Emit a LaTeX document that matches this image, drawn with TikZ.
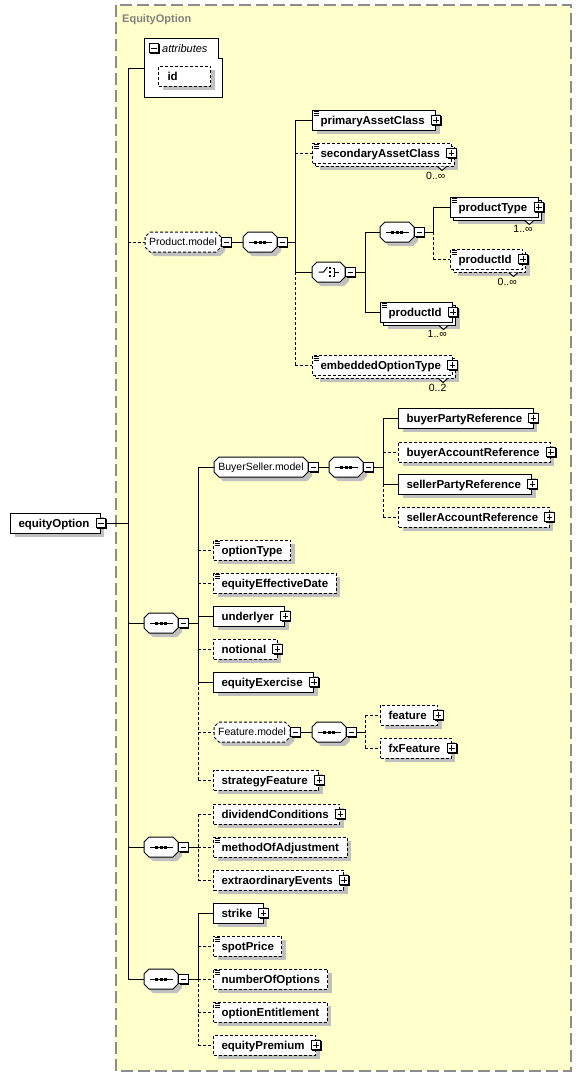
\documentclass[tikz,border=0pt]{standalone}
\usepackage{fontspec}
\setmainfont{Liberation Sans}
\usetikzlibrary{shadows}
\definecolor{yel}{RGB}{255,255,204}
\definecolor{bordergray}{RGB}{140,140,140}
\definecolor{titlegray}{RGB}{128,128,128}
\definecolor{shgray}{RGB}{192,192,192}
\newcommand\elfont{\fontsize{11.5}{13}\selectfont\bfseries}
\newcommand\grfont{\fontsize{10.5}{12}\selectfont}
\newcommand\itfont{\fontsize{11}{13}\selectfont\itshape}
\newcommand\cdfont{\fontsize{10.5}{12}\selectfont}
\newcommand\tifont{\fontsize{11}{13}\selectfont\bfseries}
\newcommand\TX[1]{\hspace*{8pt}#1\hspace*{8pt}}
\newcommand\TP[1]{\hspace*{8pt}#1\hspace*{11pt}}
% octagon shape with shadow (numeric)
\newcommand\xOct[4]{%
 \fill[shgray] ({#1+9},{#3-6}) -- ({#2-1},{#3-6}) -- ({#2+4},{#3-1}) -- ({#2+4},{#3+9}) -- ({#2-1},{#3+14}) -- ({#1+9},{#3+14}) -- ({#1+4},{#3+9}) -- ({#1+4},{#3-1}) -- cycle;
 \draw[fill=white, line width=1pt, #4] ({#1+5},{#3-10}) -- ({#2-5},{#3-10}) -- (#2,{#3-5}) -- (#2,{#3+5}) -- ({#2-5},{#3+10}) -- ({#1+5},{#3+10}) -- (#1,{#3+5}) -- (#1,{#3-5}) -- cycle;}
\newcommand\xSeq[3]{%
 \xOct{#2-17}{#2+17}{#3}{solid}
 \node[gnode, minimum width=34pt] (#1) at (#2,#3) {};
 \draw[line width=1pt] ({#2-11.5},#3) -- ({#2+11.5},#3);
 \foreach \dd in {-4.5,0,4.5} {\fill ({#2+\dd-1.5},{#3-1.5}) rectangle ++(3,3);}
 \node[mbox, anchor=west] (#1m) at (#1.east) {};}
\newcommand\xChoice[3]{%
 \xOct{#2-16.5}{#2+16.5}{#3}{solid}
 \node[gnode, minimum width=33pt] (#1) at (#2,#3) {};
 \draw[line width=1pt] ({#2-10},#3) -- ({#2-5},#3) -- ({#2-1},{#3-5});
 \foreach \dd in {-4,0,4} {\fill ({#2+0.5},{#3+\dd-1}) rectangle ++(2,2);}
 \draw[line width=1pt] ({#2+4},{#3-4}) -- ({#2+6},{#3-4}) -- ({#2+6},{#3+4}) -- ({#2+4},{#3+4});
 \draw[line width=1pt] ({#2+6},#3) -- ({#2+10},#3);
 \node[mbox, anchor=west] (#1m) at (#1.east) {};}
\newcommand\xGroup[6]{%
 \xOct{#2}{#3}{#4}{#5}
 \node[gnode, minimum width=#3-#2] (#1) at ({(#2+#3)/2},#4) {#6};
 \node[mbox, anchor=west] (#1m) at (#1.east) {};}
\newcommand\xPlus[1]{\node[pbox] (#1p) at (#1.east) {};}
\newcommand\xMinus[1]{\node[mbox] (#1m) at (#1.east) {};}
\newcommand\xMark[1]{\draw[line width=0.8pt] ([xshift=2pt,yshift=-2pt]#1.north west) -- ++(5,0) ([xshift=2pt,yshift=-4pt]#1.north west) -- ++(5,0) ([xshift=2pt,yshift=-6pt]#1.north west) -- ++(5,0);}
\newcommand\xStack[6]{%
 \node[#4, sh] (#1b) at ({#2+3},{#3+3}) {\phantom{#5}};
 \draw[line width=1pt, fill=white] ([xshift=-17pt]#1b.south east) -- ++(4.5,4) -- ++(4.5,-4);
 \node[#4] (#1) at (#2,#3) {#5};
 \node[cardn] (#1c) at ([xshift=-9pt,yshift=-5pt]#1b.south east) {#6};}
\begin{document}
\begin{tikzpicture}[x=1pt,y=-1pt,
 ln/.style={line width=1pt},
 lnd/.style={line width=1pt, dash pattern=on 3pt off 2pt},
 dashpat/.style={dash pattern=on 3pt off 2pt},
 base/.style={rectangle, fill=white, draw=black, line width=1pt, minimum height=20pt, inner sep=0pt, anchor=west, font=\elfont, text height=8.2pt, text depth=0pt},
 els/.style={base},
 eld/.style={base, dash pattern=on 3pt off 2pt},
 sh/.style={general shadow={fill=shgray, shadow xshift=4pt, shadow yshift=-4pt}},
 boxb/.style={rectangle, draw=black, fill=white, line width=1pt, minimum size=9.5pt, inner sep=0pt, general shadow={fill=black, shadow xshift=1pt, shadow yshift=-1pt}},
 pbox/.style={boxb, path picture={\draw[line width=1pt] ([xshift=2pt]path picture bounding box.west) -- ([xshift=-2pt]path picture bounding box.east); \draw[line width=1pt] ([yshift=2pt]path picture bounding box.south) -- ([yshift=-2pt]path picture bounding box.north);}},
 mbox/.style={boxb, path picture={\draw[line width=1pt] ([xshift=2pt]path picture bounding box.west) -- ([xshift=-2pt]path picture bounding box.east);}},
 gnode/.style={rectangle, draw=none, inner sep=0pt, minimum height=20pt, font=\grfont, text height=7.5pt, text depth=0pt},
 cardn/.style={anchor=north east, inner sep=0pt, font=\cdfont}
]
\useasboundingbox (0,0) rectangle (581,1077);
\fill[white] (0,0) rectangle (581,1077);
% frame
\fill[yel] (116,5) rectangle (571,1071);
\draw[bordergray, line width=1.2pt, dash pattern=on 12pt off 5pt] (116,5) rectangle (571,1071);
\node[font=\tifont, text=titlegray, anchor=west, inner sep=0pt, text height=8pt, text depth=0pt] (title) at (122,18) {EquityOption};

% bus coordinates
\coordinate (b0) at (128,0);
\coordinate (b1) at (295,0);
\coordinate (b2) at (433,0);
\coordinate (b3) at (365,0);
\coordinate (b4) at (198,0);
\coordinate (b5) at (383,0);
\coordinate (b6) at (365,0);

% attributes
\draw[fill=white, line width=1pt] (144,38) -- (218,38) -- (218,58) -- (222,58) -- (222,97) -- (144,97) -- cycle;
\coordinate (attrc) at (144,68);
\node[mbox] (attrm) at (154,48) {};
\node[font=\itfont, anchor=west, inner sep=0pt, text height=8pt, text depth=0pt] (attrt) at (162,48) {attributes};
\node[eld, sh] (idn) at (158,76) {\makebox[52pt][l]{\hspace*{9pt}id}};

% root
\node[els, sh] (root) at (10,523) {\TP{equityOption}};
\xMinus{root}

% Product.model
\xGroup{pm}{145}{221}{242}{dashpat}{Product.model}
\xSeq{pms}{260}{242}
\node[els, sh] (pac) at (312,120) {\TP{primaryAssetClass}}; \xMark{pac} \xPlus{pac}
\xStack{sac}{312}{153}{eld}{\TP{secondaryAssetClass}}{0..∞} \xMark{sac} \xPlus{sac}
\xChoice{ch}{328.5}{272}
\xSeq{ps}{397}{232}
\xStack{pt}{450}{207}{els}{\TP{productType}}{1..∞} \xMark{pt} \xPlus{pt}
\xStack{pi}{450}{259}{eld}{\TP{productId}}{0..∞} \xMark{pi} \xPlus{pi}
\xStack{pii}{380}{312}{els}{\TP{productId}}{1..∞} \xMark{pii} \xPlus{pii}
\xStack{eot}{312}{365}{eld}{\TP{embeddedOptionType}}{0..2} \xMark{eot} \xPlus{eot}

% sequence 1
\xSeq{sa}{161}{623}
\xGroup{bs}{214}{308}{467}{solid}{BuyerSeller.model}
\xSeq{bss}{346}{467}
\node[els, sh] (bpr) at (398,418) {\TP{buyerPartyReference}}; \xPlus{bpr}
\node[eld, sh] (bar) at (398,452) {\TP{buyerAccountReference}}; \xPlus{bar}
\node[els, sh] (spr) at (398,484) {\TP{sellerPartyReference}}; \xPlus{spr}
\node[eld, sh] (sar) at (398,517) {\TP{sellerAccountReference}}; \xPlus{sar}
\node[eld, sh] (ot) at (213,550) {\TX{optionType}}; \xMark{ot}
\node[eld, sh] (eed) at (213,583) {\TX{equityEffectiveDate}}; \xMark{eed}
\node[els, sh] (und) at (213,616) {\TP{underlyer}}; \xPlus{und}
\node[eld, sh] (nt) at (213,649) {\TP{notional}}; \xPlus{nt}
\node[els, sh] (ee) at (213,682) {\TP{equityExercise}}; \xPlus{ee}
\xGroup{fm}{214}{290}{732}{dashpat}{Feature.model}
\xSeq{fms}{329}{732}
\node[eld, sh] (fe) at (380,715) {\TP{feature}}; \xPlus{fe}
\node[eld, sh] (fx) at (380,748) {\TP{fxFeature}}; \xPlus{fx}
\node[eld, sh] (sf) at (213,780) {\TP{strategyFeature}}; \xPlus{sf}

% sequence 2
\xSeq{sb}{161}{847}
\node[eld, sh] (dc) at (213,814) {\TP{dividendConditions}}; \xPlus{dc}
\node[eld, sh] (moa) at (213,847) {\TX{methodOfAdjustment}}; \xMark{moa}
\node[eld, sh] (xe) at (213,880) {\TP{extraordinaryEvents}}; \xPlus{xe}

% sequence 3
\xSeq{sc}{161}{979}
\node[els, sh] (st) at (213,913) {\TP{strike}}; \xPlus{st}
\node[eld, sh] (sp) at (213,946) {\TX{spotPrice}}; \xMark{sp}
\node[eld, sh] (noo) at (213,979) {\TX{numberOfOptions}}; \xMark{noo}
\node[eld, sh] (oe) at (213,1012) {\TX{optionEntitlement}}; \xMark{oe}
\node[eld, sh] (ep) at (213,1045) {\TP{equityPremium}}; \xPlus{ep}

% ---------- connectors ----------
% main bus
\draw[ln] (attrc -| b0) -- (sc.west -| b0);
\draw[ln] (rootm.east) -- (rootm.east -| b0);
\draw[ln] (attrc -| b0) -- (attrc);
\draw[lnd] (pm.west -| b0) -- (pm.west);
\draw[ln] (sa.west -| b0) -- (sa.west);
\draw[ln] (sb.west -| b0) -- (sb.west);
\draw[ln] (sc.west -| b0) -- (sc.west);
% Product.model
\draw[ln] (pmm.east) -- (pms.west);
\draw[ln] (pmsm.east) -- (pmsm.east -| b1);
\draw[ln] (pac.west -| b1) -- (ch.west -| b1);
\draw[lnd] (ch.west -| b1) -- (eot.west -| b1);
\draw[ln] (pac.west -| b1) -- (pac.west);
\draw[lnd] (sac.west -| b1) -- (sac.west);
\draw[ln] (ch.west -| b1) -- (ch.west);
\draw[lnd] (eot.west -| b1) -- (eot.west);
% choice
\draw[ln] (chm.east) -- (chm.east -| b3);
\draw[ln] (ps.west -| b3) -- (pii.west -| b3);
\draw[ln] (ps.west -| b3) -- (ps.west);
\draw[ln] (pii.west -| b3) -- (pii.west);
% inner sequence
\draw[ln] (psm.east) -- (psm.east -| b2);
\draw[ln] (pt.west -| b2) -- (ps.west -| b2);
\draw[lnd] (ps.west -| b2) -- (pi.west -| b2);
\draw[ln] (pt.west -| b2) -- (pt.west);
\draw[lnd] (pi.west -| b2) -- (pi.west);
% sequence 1
\draw[ln] (sam.east) -- (sam.east -| b4);
\draw[ln] (bs.west -| b4) -- (ee.west -| b4);
\draw[lnd] (ee.west -| b4) -- (sf.west -| b4);
\draw[ln] (bs.west -| b4) -- (bs.west);
\draw[lnd] (ot.west -| b4) -- (ot.west);
\draw[lnd] (eed.west -| b4) -- (eed.west);
\draw[ln] (und.west -| b4) -- (und.west);
\draw[lnd] (nt.west -| b4) -- (nt.west);
\draw[ln] (ee.west -| b4) -- (ee.west);
\draw[lnd] (fm.west -| b4) -- (fm.west);
\draw[lnd] (sf.west -| b4) -- (sf.west);
% BuyerSeller.model
\draw[ln] (bsm.east) -- (bss.west);
\draw[ln] (bssm.east) -- (bssm.east -| b5);
\draw[ln] (bpr.west -| b5) -- (spr.west -| b5);
\draw[lnd] (spr.west -| b5) -- (sar.west -| b5);
\draw[ln] (bpr.west -| b5) -- (bpr.west);
\draw[lnd] (bar.west -| b5) -- (bar.west);
\draw[ln] (spr.west -| b5) -- (spr.west);
\draw[lnd] (sar.west -| b5) -- (sar.west);
% Feature.model
\draw[ln] (fmm.east) -- (fms.west);
\draw[ln] (fmsm.east) -- (fmsm.east -| b6);
\draw[lnd] (fe.west -| b6) -- (fx.west -| b6);
\draw[lnd] (fe.west -| b6) -- (fe.west);
\draw[lnd] (fx.west -| b6) -- (fx.west);
% sequence 2
\draw[ln] (sbm.east) -- (sbm.east -| b4);
\draw[lnd] (dc.west -| b4) -- (xe.west -| b4);
\draw[lnd] (dc.west -| b4) -- (dc.west);
\draw[lnd] (moa.west -| b4) -- (moa.west);
\draw[lnd] (xe.west -| b4) -- (xe.west);
% sequence 3
\draw[ln] (scm.east) -- (scm.east -| b4);
\draw[ln] (st.west -| b4) -- (sc.west -| b4);
\draw[lnd] (sc.west -| b4) -- (ep.west -| b4);
\draw[ln] (st.west -| b4) -- (st.west);
\draw[lnd] (sp.west -| b4) -- (sp.west);
\draw[lnd] (noo.west -| b4) -- (noo.west);
\draw[lnd] (oe.west -| b4) -- (oe.west);
\draw[lnd] (ep.west -| b4) -- (ep.west);
\end{tikzpicture}
\end{document}
